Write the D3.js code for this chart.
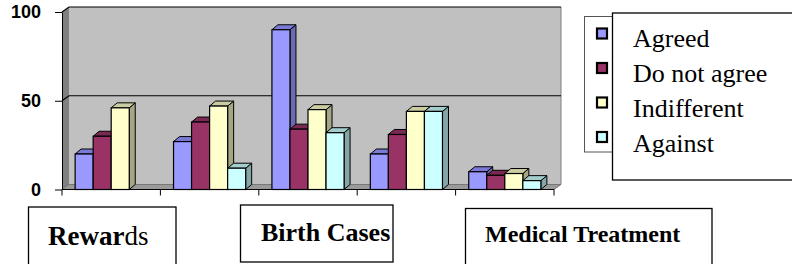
<!DOCTYPE html>
<html>
<head>
<meta charset="utf-8">
<script src="https://cdn.jsdelivr.net/npm/d3@7"></script>
<style>
  html, body { margin: 0; padding: 0; background: #fff; }
  svg { display: block; }
</style>
</head>
<body>
<svg id="chart" width="792" height="264"></svg>
<script>
// ---- data ----
const categories = ["Rewards", "Group 2", "Birth Cases", "Group 4", "Medical Treatment"];
const seriesNames = ["Agreed", "Do not agree", "Indifferent", "Against"];
const agreed      = [20, 27, 90, 20, 10];
const doNotAgree  = [30, 38, 34, 31, 8];
const indifferent = [46, 47, 45, 44, 9];
const against     = [0, 12, 32, 44, 5];
const yTicks = [0, 50, 100];
const boxLabels = ["Rewards", "Birth Cases", "Medical Treatment"];

const seriesValues = [agreed, doNotAgree, indifferent, against];
const colors = {
  front: ["#9999FF", "#993366", "#FFFFCC", "#CCFFFF"],
  top:   ["#7a7ad6", "#7a2952", "#cccca3", "#a3cccc"],
  side:  ["#6b6bb3", "#6b2447", "#a6a685", "#85a6a6"]
};

const svg = d3.select("#chart");

const x0 = 62, x1 = 554, yBottom = 189.5, yTop = 12;
const DX = 7, DY = 5;       // wall depth
const bdx = 6, bdy = 5;     // bar depth

const x = d3.scaleBand().domain(categories).range([x0, x1]).padding(0);
const xs = d3.scaleBand().domain(seriesNames).range([0, x.bandwidth()]).paddingInner(0).paddingOuter(0.728);
const y = d3.scaleLinear().domain([0, 100]).range([yBottom, yTop]);
const pts = a => a.map(p => p.join(",")).join(" ");

// ---- walls ----
svg.append("rect")
  .attr("x", x0 + DX).attr("y", y(100) - DY)
  .attr("width", x1 - x0).attr("height", y(0) - y(100))
  .attr("fill", "#c0c0c0");
svg.append("polygon")
  .attr("points", pts([[x0, y(100)], [x0 + DX, y(100) - DY], [x0 + DX, y(0) - DY], [x0, y(0)]]))
  .attr("fill", "#808080");
svg.append("polygon")
  .attr("points", pts([[x0, y(0)], [x1, y(0)], [x1 + DX, y(0) - DY], [x0 + DX, y(0) - DY]]))
  .attr("fill", "#9a9a9a").attr("stroke", "#666").attr("stroke-width", 0.8);
svg.append("line")
  .attr("x1", x1 + DX).attr("x2", x1 + DX).attr("y1", y(100) - DY).attr("y2", y(0) - DY)
  .attr("stroke", "#808080").attr("stroke-width", 1);

// gridlines (left wall + back wall)
yTicks.filter(v => v > 0).forEach(v => {
  svg.append("polyline")
    .attr("points", pts([[x0, y(v)], [x0 + DX, y(v) - DY], [x1 + DX, y(v) - DY]]))
    .attr("fill", "none").attr("stroke", "#000").attr("stroke-width", 1.2);
});

// ---- bars ----
categories.forEach((cat, ci) => {
  seriesNames.forEach((s, si) => {
    const v = seriesValues[si][ci];
    if (!v) return;
    const bx = x(cat) + xs(s), bw = xs.bandwidth();
    const ty = y(v), by = y(0);
    const g = svg.append("g");
    g.append("polygon")
      .attr("points", pts([[bx + bw, ty], [bx + bw + bdx, ty - bdy], [bx + bw + bdx, by - bdy], [bx + bw, by]]))
      .attr("fill", colors.side[si]).attr("stroke", "#000").attr("stroke-width", 1).attr("stroke-linejoin", "round");
    g.append("polygon")
      .attr("points", pts([[bx, ty], [bx + bdx, ty - bdy], [bx + bw + bdx, ty - bdy], [bx + bw, ty]]))
      .attr("fill", colors.top[si]).attr("stroke", "#000").attr("stroke-width", 1).attr("stroke-linejoin", "round");
    g.append("rect")
      .attr("x", bx).attr("y", ty).attr("width", bw).attr("height", by - ty)
      .attr("fill", colors.front[si]).attr("stroke", "#000").attr("stroke-width", 1.2);
  });
});

// ---- axes ----
const yAxis = d3.axisLeft(y).tickValues(yTicks).tickSize(7).tickPadding(14).tickSizeOuter(0);
const ga = svg.append("g").attr("transform", `translate(${x0},0)`).call(yAxis);
ga.select(".domain").attr("stroke", "#000").attr("stroke-width", 1);
ga.selectAll(".tick line").attr("stroke", "#000");
ga.selectAll(".tick text")
  .attr("font-family", "'Liberation Sans', Arial, sans-serif")
  .attr("font-weight", "bold").attr("font-size", 18).attr("fill", "#000");

svg.append("line").attr("x1", x0).attr("x2", x1).attr("y1", y(0)).attr("y2", y(0))
  .attr("stroke", "#000").attr("stroke-width", 1);
const bounds = categories.map(c => x(c)).concat([x1]);
svg.selectAll(".xt").data(bounds).enter().append("line")
  .attr("x1", d => d).attr("x2", d => d).attr("y1", y(0)).attr("y2", y(0) + 6)
  .attr("stroke", "#000").attr("stroke-width", 1);

// ---- legend ----
const serif = "'Liberation Serif', 'Times New Roman', serif";
svg.append("rect").attr("x", 584.5).attr("y", 16.5).attr("width", 100).attr("height", 135.5)
  .attr("fill", "#fff").attr("stroke", "#555").attr("stroke-width", 1);
seriesNames.forEach((s, i) => {
  svg.append("rect").attr("x", 597).attr("y", 28.5 + i * 34.5).attr("width", 10).attr("height", 10)
    .attr("fill", colors.front[i]).attr("stroke", "#000").attr("stroke-width", 2.2);
});
svg.append("rect").attr("x", 612.5).attr("y", 13).attr("width", 200).attr("height", 167)
  .attr("fill", "#fff").attr("stroke", "#000").attr("stroke-width", 1.3);
seriesNames.forEach((s, i) => {
  svg.append("text").attr("x", 633).attr("y", 47 + i * 35)
    .attr("font-family", serif).attr("font-size", 26)
    .attr("fill", "#000").text(s);
});

// ---- label text boxes ----
svg.append("rect").attr("x", 28.5).attr("y", 207).attr("width", 147.5).attr("height", 70)
  .attr("fill", "#fff").attr("stroke", "#000").attr("stroke-width", 1.3);
const t1 = svg.append("text").attr("x", 48).attr("y", 245).attr("font-family", serif).attr("font-size", 27).attr("fill", "#000");
t1.append("tspan").attr("font-weight", "bold").text(boxLabels[0].slice(0, 5));
t1.append("tspan").attr("font-weight", "normal").text(boxLabels[0].slice(5));
svg.append("rect").attr("x", 240.5).attr("y", 205).attr("width", 152.5).attr("height", 57)
  .attr("fill", "#fff").attr("stroke", "#000").attr("stroke-width", 1.3);
svg.append("text").attr("x", 261).attr("y", 241).attr("font-family", serif).attr("font-size", 26)
  .attr("font-weight", "bold").attr("fill", "#000").text(boxLabels[1]);
svg.append("rect").attr("x", 465.5).attr("y", 208.5).attr("width", 246.5).attr("height", 70)
  .attr("fill", "#fff").attr("stroke", "#000").attr("stroke-width", 1.3);
svg.append("text").attr("x", 485).attr("y", 242).attr("font-family", serif).attr("font-size", 24)
  .attr("font-weight", "bold").attr("fill", "#000").text(boxLabels[2]);
</script>
</body>
</html>
